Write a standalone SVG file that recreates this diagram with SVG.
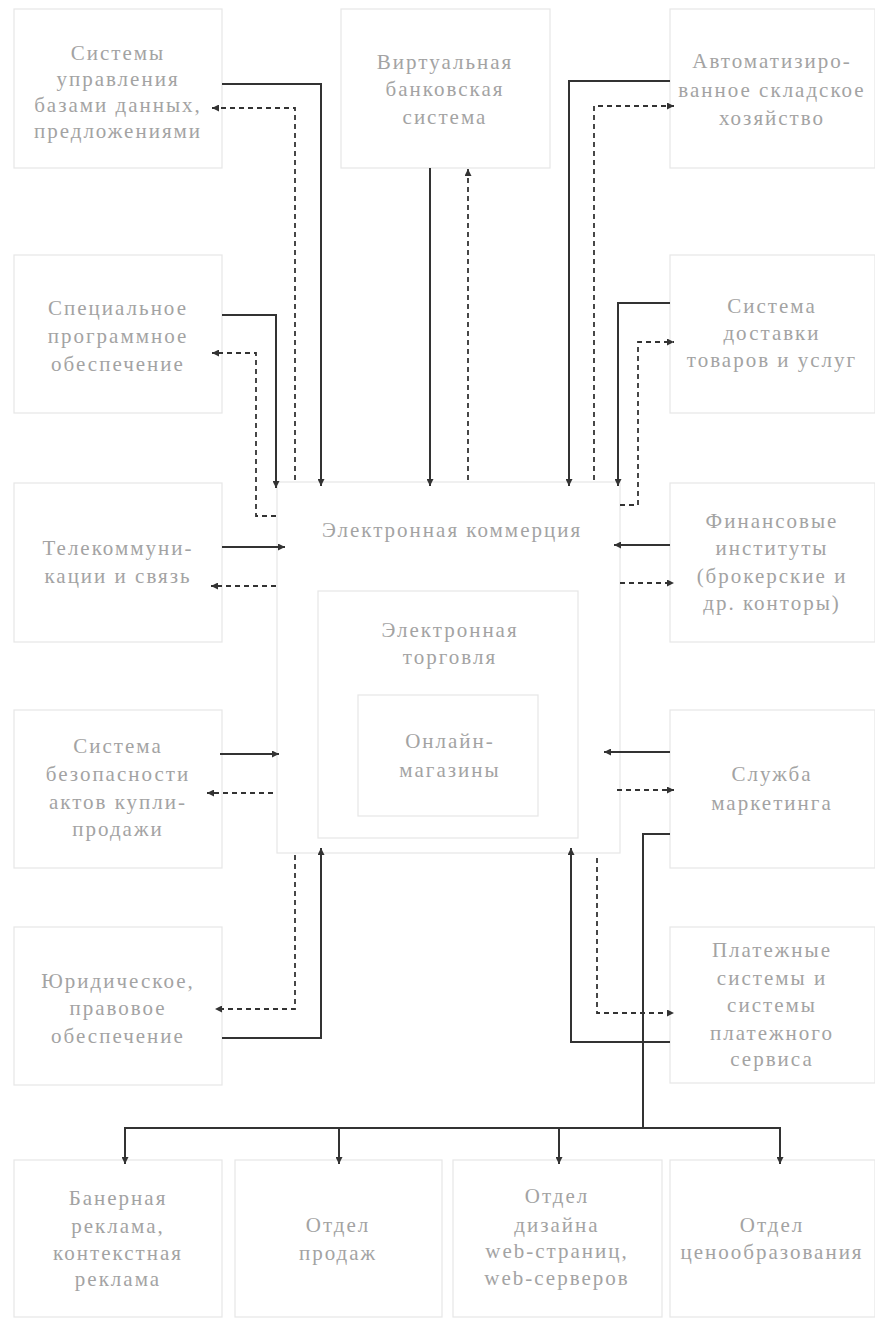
<svg xmlns="http://www.w3.org/2000/svg" width="875" height="1327" viewBox="0 0 875 1327">
<defs>
<marker id="ah" viewBox="0 0 10 10" refX="10" refY="5" markerWidth="11" markerHeight="7" orient="auto" markerUnits="userSpaceOnUse"><path d="M0,0 L10,5 L0,10 z" fill="#333"/></marker>
<style>
.box{fill:#fff;stroke:#e6e6e6;stroke-width:1.2}
.t{font-family:"Liberation Serif","DejaVu Serif",serif;font-size:21px;letter-spacing:2px;fill:#a3a3a3;text-anchor:middle}
.s{fill:none;stroke:#333;stroke-width:2;marker-end:url(#ah)}
.d{fill:none;stroke:#333;stroke-width:1.8;stroke-dasharray:5 4;marker-end:url(#ah)}
.l{fill:none;stroke:#333;stroke-width:2}
</style>
</defs>
<rect width="875" height="1327" fill="#fff"/>

<g id="n-dbms"><rect class="box" x="14" y="9" width="208" height="159"/>
<text class="t" x="118" y="60">Системы</text><text class="t" x="118" y="86">управления</text><text class="t" x="118" y="112">базами данных,</text><text class="t" x="118" y="138">предложениями</text></g>

<g id="n-bank"><rect class="box" x="341" y="9" width="209" height="159"/>
<text class="t" x="445" y="69">Виртуальная</text><text class="t" x="445" y="96">банковская</text><text class="t" x="445" y="124">система</text></g>

<g id="n-storage"><rect class="box" x="670" y="9" width="205" height="159"/>
<text class="t" x="772" y="68">Автоматизиро-</text><text class="t" x="772" y="97">ванное складское</text><text class="t" x="772" y="125">хозяйство</text></g>

<g id="n-software"><rect class="box" x="14" y="255" width="208" height="158"/>
<text class="t" x="118" y="315">Специальное</text><text class="t" x="118" y="343">программное</text><text class="t" x="118" y="371">обеспечение</text></g>

<g id="n-delivery"><rect class="box" x="670" y="255" width="205" height="158"/>
<text class="t" x="772" y="313">Система</text><text class="t" x="772" y="340">доставки</text><text class="t" x="772" y="367">товаров и услуг</text></g>

<g id="n-telecom"><rect class="box" x="14" y="483" width="208" height="159"/>
<text class="t" x="118" y="555">Телекоммуни-</text><text class="t" x="118" y="583">кации и связь</text></g>

<g id="n-finance"><rect class="box" x="670" y="483" width="205" height="159"/>
<text class="t" x="772" y="528">Финансовые</text><text class="t" x="772" y="555">институты</text><text class="t" x="772" y="583">(брокерские и</text><text class="t" x="772" y="610">др. конторы)</text></g>

<g id="n-security"><rect class="box" x="14" y="710" width="208" height="158"/>
<text class="t" x="118" y="753">Система</text><text class="t" x="118" y="781">безопасности</text><text class="t" x="118" y="809">актов купли-</text><text class="t" x="118" y="836">продажи</text></g>

<g id="n-marketing"><rect class="box" x="670" y="710" width="205" height="158"/>
<text class="t" x="772" y="781">Служба</text><text class="t" x="772" y="810">маркетинга</text></g>

<g id="n-legal"><rect class="box" x="14" y="927" width="208" height="158"/>
<text class="t" x="118" y="988">Юридическое,</text><text class="t" x="118" y="1015">правовое</text><text class="t" x="118" y="1043">обеспечение</text></g>

<g id="n-payment"><rect class="box" x="670" y="927" width="205" height="156"/>
<text class="t" x="772" y="957">Платежные</text><text class="t" x="772" y="985">системы и</text><text class="t" x="772" y="1012">системы</text><text class="t" x="772" y="1040">платежного</text><text class="t" x="772" y="1066">сервиса</text></g>

<g id="n-ecommerce"><rect class="box" x="277" y="482" width="343" height="371"/>
<text class="t" x="452" y="537">Электронная коммерция</text></g>

<g id="n-etrade"><rect class="box" x="318" y="591" width="260" height="247"/>
<text class="t" x="450" y="637">Электронная</text><text class="t" x="450" y="664">торговля</text></g>

<g id="n-shops"><rect class="box" x="358" y="695" width="180" height="121"/>
<text class="t" x="450" y="748">Онлайн-</text><text class="t" x="450" y="777">магазины</text></g>

<g id="n-banner"><rect class="box" x="14" y="1160" width="208" height="157"/>
<text class="t" x="118" y="1205">Банерная</text><text class="t" x="118" y="1233">реклама,</text><text class="t" x="118" y="1260">контекстная</text><text class="t" x="118" y="1286">реклама</text></g>

<g id="n-sales"><rect class="box" x="235" y="1160" width="207" height="157"/>
<text class="t" x="338" y="1232">Отдел</text><text class="t" x="338" y="1260">продаж</text></g>

<g id="n-design"><rect class="box" x="453" y="1160" width="209" height="157"/>
<text class="t" x="557" y="1203">Отдел</text><text class="t" x="557" y="1232">дизайна</text><text class="t" x="557" y="1258">web-страниц,</text><text class="t" x="557" y="1285">web-серверов</text></g>

<g id="n-pricing"><rect class="box" x="670" y="1160" width="205" height="157"/>
<text class="t" x="772" y="1232">Отдел</text><text class="t" x="772" y="1259">ценообразования</text></g>

<g id="connectors">
<path class="s" d="M222,84 H321 V486"/>
<path class="d" d="M295,480 V108 H212"/>
<path class="s" d="M430,168 V486"/>
<path class="d" d="M468,480 V169"/>
<path class="s" d="M670,81 H569 V486"/>
<path class="d" d="M594,480 V106 H674"/>
<path class="s" d="M222,315 H276 V488"/>
<path class="d" d="M276,516 H256 V353 H212"/>
<path class="s" d="M670,303 H618 V486"/>
<path class="d" d="M620,505 H638 V342 H674"/>
<path class="s" d="M222,547 H285"/>
<path class="d" d="M276,586 H211"/>
<path class="s" d="M670,545 H614"/>
<path class="d" d="M620,583 H674"/>
<path class="s" d="M220,754 H279"/>
<path class="d" d="M273,793 H207"/>
<path class="s" d="M670,752 H604"/>
<path class="d" d="M617,790 H674"/>
<path class="d" d="M295,855 V1009 H215"/>
<path class="s" d="M222,1038 H321 V848"/>
<path class="d" d="M597,858 V1013 H674"/>
<path class="s" d="M670,1042 H571 V848"/>
<path class="l" d="M670,834 H643 V1128"/>
<path class="l" d="M125,1128 H780"/>
<path class="s" d="M125,1127 V1164"/>
<path class="s" d="M339,1127 V1164"/>
<path class="s" d="M559,1127 V1164"/>
<path class="s" d="M780,1127 V1164"/>
</g>
</svg>
